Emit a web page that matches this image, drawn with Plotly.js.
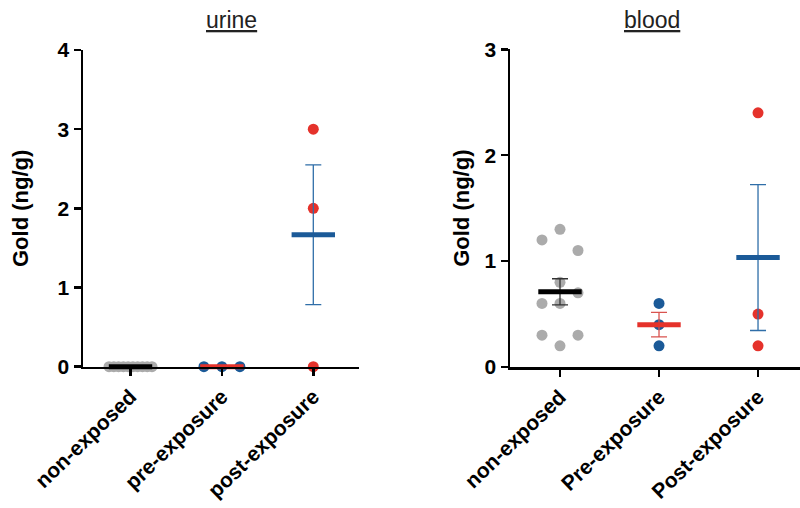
<!DOCTYPE html>
<html>
<head>
<meta charset="utf-8">
<script src="https://cdn.plot.ly/plotly-3.0.1.min.js"></script>
<style>html,body{margin:0;padding:0;background:#fff;}#chart{width:800px;height:508px;}</style>
</head>
<body>
<div id="chart"></div>
<script>
// ---------- data ----------
const urineCategories = ['non-exposed', 'pre-exposure', 'post-exposure'];
const bloodCategories = ['non-exposed', 'Pre-exposure', 'Post-exposure'];

const urineNonExposed  = [0, 0, 0, 0, 0, 0, 0, 0, 0, 0];
const urinePreExposure = [0, 0, 0];
const urinePostExposure = [3, 2, 0];

const bloodNonExposed  = [1.3, 1.2, 1.1, 0.8, 0.6, 0.6, 0.7, 0.3, 0.3, 0.2];
const bloodPreExposure = [0.6, 0.4, 0.2];
const bloodPostExposure = [2.4, 0.5, 0.2];

const yTicksUrine = [0, 1, 2, 3, 4];
const yTicksBlood = [0, 1, 2, 3];

// ---------- styles ----------
const GRAY = '#ababab', BLUE = '#1b5a98', RED = '#e5322b', BLACK = '#000000';
const FONT = 'Liberation Sans, Arial, sans-serif';

// panel geometry (paper px)
const W = 800, H = 508;
const L = {x0: 83, x1: 359, yTop: 50, yBot: 366.7, xr: [-0.52, 2.5], yr: [0, 4], standoff: 23};
const R = {x0: 510, x1: 800, yTop: 49.3, yBot: 367, xr: [-0.505, 2.424], yr: [0, 3], standoff: 9};

function mean(a){ return a.reduce((s,v)=>s+v,0)/a.length; }
function sem(a){
  const m = mean(a);
  if (a.length < 2) return 0;
  const v = a.reduce((s,x)=>s+(x-m)*(x-m),0)/(a.length-1);
  return Math.sqrt(v/a.length);
}

// GraphPad-like scatter layout: points grouped into value bins, spread horizontally
function swarmOffsets(vals, binH, slotPx, maxSpanPx){
  const bins = {};
  vals.forEach((v,i)=>{ const b = Math.floor(v/binH + 1e-9); (bins[b] = bins[b] || []).push(i); });
  const off = new Array(vals.length).fill(0);
  Object.values(bins).forEach(idx=>{
    const n = idx.length;
    if (n === 1) return;
    if (n === 2) { off[idx[0]] = -slotPx; off[idx[1]] = slotPx; return; }
    const s = Math.min(slotPx, maxSpanPx/(n-1));
    idx.forEach((k,j)=>{ off[k] = (j-(n-1)/2)*s; });
  });
  return off;
}

const traces = [];
function addGroup(vals, pos, panel, xa, ya, ptColor, meanColor, errColor){
  const pxPerUnit = (panel.x1 - panel.x0)/(panel.xr[1]-panel.xr[0]);
  const off = swarmOffsets(vals, 0.25, 18, 43);
  traces.push({
    type: 'scatter', mode: 'markers', xaxis: xa, yaxis: ya,
    x: vals.map((v,i)=>pos + off[i]/pxPerUnit), y: vals,
    marker: {color: ptColor, size: 11, line: {width: 0}},
    cliponaxis: false, showlegend: false, hoverinfo: 'y'
  });
  const m = mean(vals), e = sem(vals);
  traces.push({
    type: 'scatter', mode: 'markers', xaxis: xa, yaxis: ya,
    x: [pos], y: [m],
    marker: {symbol: 'line-ew', size: 31, color: meanColor, line: {width: 5, color: meanColor}},
    error_y: {type: 'data', array: [e], visible: e > 0, color: errColor, thickness: 1.3, width: 8},
    cliponaxis: false, showlegend: false, hoverinfo: 'y'
  });
}

addGroup(urineNonExposed, 0, L, 'x', 'y', GRAY, BLACK, '#333');
addGroup(urinePreExposure, 1, L, 'x', 'y', BLUE, RED, '#d9534f');
addGroup(urinePostExposure, 2, L, 'x', 'y', RED, BLUE, '#2f6ea8');

addGroup(bloodNonExposed, 0, R, 'x2', 'y2', GRAY, BLACK, '#333');
addGroup(bloodPreExposure, 1, R, 'x2', 'y2', BLUE, RED, '#d9534f');
addGroup(bloodPostExposure, 2, R, 'x2', 'y2', RED, BLUE, '#2f6ea8');

function xAxis(panel, cats, anchor){
  return {
    domain: [panel.x0/W, panel.x1/W], range: panel.xr, anchor: anchor,
    tickmode: 'array', tickvals: [0,1,2], ticktext: cats, tickangle: -44,
    ticks: 'outside', ticklen: 7, tickwidth: 2.5, tickcolor: BLACK,
    showline: true, linewidth: 2.5, linecolor: BLACK,
    showgrid: false, zeroline: false, fixedrange: true,
    tickfont: {family: FONT, size: 21, color: BLACK, weight: 'bold'}
  };
}
function yAxis(panel, ticks, anchor){
  return {
    domain: [(H-panel.yBot)/H, (H-panel.yTop)/H], range: panel.yr, anchor: anchor,
    tickmode: 'array', tickvals: ticks,
    ticks: 'outside', ticklen: 7, tickwidth: 2.5, tickcolor: BLACK,
    showline: true, linewidth: 2.5, linecolor: BLACK,
    showgrid: false, zeroline: false, fixedrange: true,
    tickfont: {family: FONT, size: 21, color: BLACK, weight: 'bold'},
    title: {text: 'Gold (ng/g)', standoff: panel.standoff, font: {family: FONT, size: 22, color: BLACK, weight: 'bold'}}
  };
}

const layout = {
  width: W, height: H,
  margin: {l: 0, r: 0, t: 0, b: 0},
  paper_bgcolor: '#fff', plot_bgcolor: '#fff',
  showlegend: false,
  xaxis: xAxis(L, urineCategories, 'y'),
  yaxis: yAxis(L, yTicksUrine, 'x'),
  xaxis2: xAxis(R, bloodCategories, 'y2'),
  yaxis2: yAxis(R, yTicksBlood, 'x2'),
  annotations: [
    {text: '<u>urine</u>', xref: 'paper', yref: 'paper', x: 232/W, y: 1 - 20/H,
     xanchor: 'center', yanchor: 'middle', showarrow: false,
     font: {family: FONT, size: 23, color: '#222'}},
    {text: '<u>blood</u>', xref: 'paper', yref: 'paper', x: 652/W, y: 1 - 20/H,
     xanchor: 'center', yanchor: 'middle', showarrow: false,
     font: {family: FONT, size: 23, color: '#222'}}
  ]
};

Plotly.newPlot('chart', traces, layout, {displayModeBar: false, staticPlot: true});
</script>
</body>
</html>
